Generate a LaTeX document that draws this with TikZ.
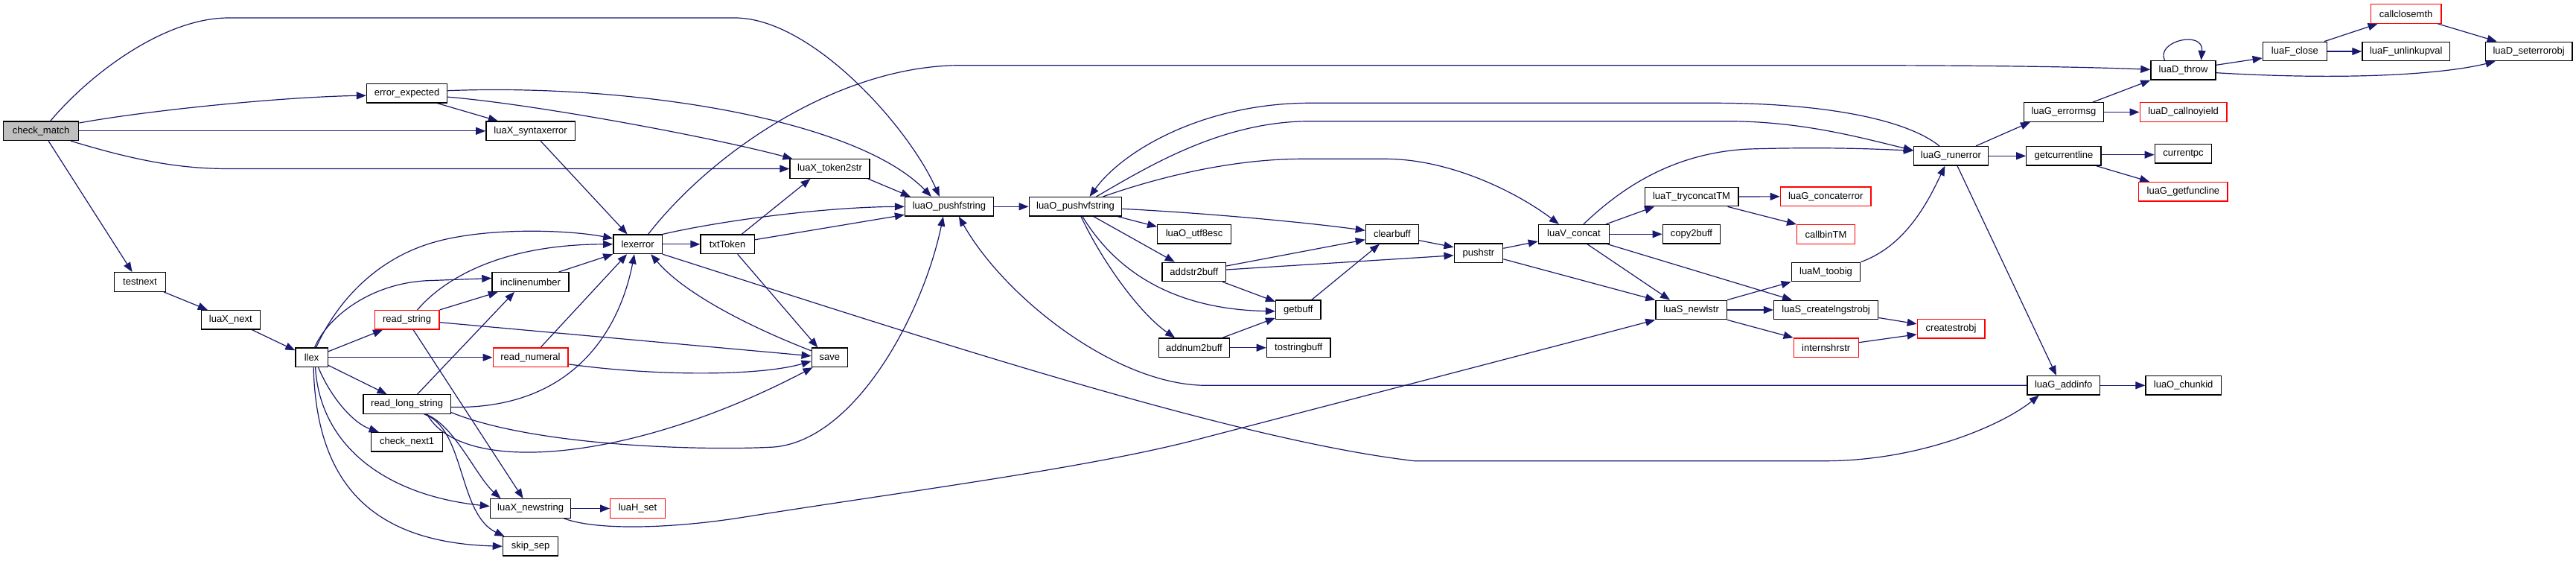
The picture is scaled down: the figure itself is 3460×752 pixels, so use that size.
\documentclass[tikz,border=0pt]{standalone}
\usepackage{fontspec}
\setmainfont{Liberation Sans}
\usetikzlibrary{arrows.meta}
\definecolor{edgec}{HTML}{191970}
\definecolor{fillg}{HTML}{BFBFBF}
\pgfdeclarelayer{bg}
\pgfsetlayers{bg,main}
\begin{document}
\begin{tikzpicture}[x=1pt,y=-1pt,
 fn/.style={draw=black, line width=1.3pt, fill=white, minimum height=25.5pt, inner sep=0pt, font=\fontsize{13}{15}\selectfont},
 fnred/.style={fn, draw=red},
 fnmain/.style={fn, fill=fillg},
 call/.style={draw=edgec, line width=1.2pt, -{Triangle[length=13pt,width=10pt]}}]
\useasboundingbox (0,0) rectangle (3460,752);
% nodes
\node[fnmain, minimum width=101.4pt] (cm) at (55.1,175.8) {check\_match};
\node[fn, minimum width=108.3pt] (ee) at (546.6,125.2) {error\_expected};
\node[fn, minimum width=119.5pt] (se) at (712.6,175.8) {luaX\_syntaxerror};
\node[fn, minimum width=107.1pt] (t2s) at (1114.5,226.5) {luaX\_token2str};
\node[fn, minimum width=69.5pt] (tn) at (188,378.5) {testnext};
\node[fn, minimum width=78.8pt] (nx) at (309.8,429.3) {luaX\_next};
\node[fn, minimum width=43.3pt] (llex) at (418.6,479.8) {llex};
\node[fnred, minimum width=86.9pt] (rs) at (546.6,429.3) {read\_string};
\node[fn, minimum width=117.2pt] (rls) at (546.6,542.5) {read\_long\_string};
\node[fn, minimum width=96.1pt] (cn1) at (546.7,593.2) {check\_next1};
\node[fn, minimum width=65.5pt] (le) at (856.6,327.8) {lexerror};
\node[fn, minimum width=72.1pt] (tt) at (977.1,327.8) {txtToken};
\node[fn, minimum width=102.9pt] (inc) at (712.4,378.5) {inclinenumber};
\node[fnred, minimum width=100.7pt] (rn) at (712.5,479.8) {read\_numeral};
\node[fn, minimum width=48.4pt] (save) at (1114.4,479.8) {save};
\node[fn, minimum width=108.4pt] (ns) at (712.6,682.5) {luaX\_newstring};
\node[fnred, minimum width=73.7pt] (hs) at (856.5,682.5) {luaH\_set};
\node[fn, minimum width=74.4pt] (ss) at (712.6,733.3) {skip\_sep};
\node[fn, minimum width=118.8pt] (pf) at (1274.9,277.3) {luaO\_pushfstring};
\node[fn, minimum width=124.4pt] (pv) at (1444.5,277.3) {luaO\_pushvfstring};
\node[fn, minimum width=98.8pt] (u8) at (1604.1,314.3) {luaO\_utf8esc};
\node[fn, minimum width=85.5pt] (as) at (1603.8,365) {addstr2buff};
\node[fn, minimum width=60.5pt] (gb) at (1743.8,415.8) {getbuff};
\node[fn, minimum width=94.7pt] (an) at (1604,466.7) {addnum2buff};
\node[fn, minimum width=85.7pt] (tsb) at (1744.2,466.7) {tostringbuff};
\node[fn, minimum width=71.1pt] (cb) at (1869.9,314.3) {clearbuff};
\node[fn, minimum width=65.5pt] (ps) at (1985.9,339.8) {pushstr};
\node[fn, minimum width=95.1pt] (vc) at (2113.9,314.3) {luaV\_concat};
\node[fn, minimum width=125.7pt] (tc) at (2272,264) {luaT\_tryconcatTM};
\node[fn, minimum width=77.6pt] (c2b) at (2272,314.3) {copy2buff};
\node[fn, minimum width=95.5pt] (nl) at (2271.6,416) {luaS\_newlstr};
\node[fnred, minimum width=121.7pt] (gce) at (2452.2,263.8) {luaG\_concaterror};
\node[fnred, minimum width=77.7pt] (cbt) at (2452.5,314.5) {callbinTM};
\node[fn, minimum width=92.5pt] (mtb) at (2452.5,365) {luaM\_toobig};
\node[fn, minimum width=140.2pt] (cls) at (2452.6,416) {luaS\_createlngstrobj};
\node[fnred, minimum width=90.6pt] (cso) at (2620.6,441.3) {createstrobj};
\node[fnred, minimum width=86.9pt] (ish) at (2452.7,466.7) {internshrstr};
\node[fn, minimum width=99.9pt] (gre) at (2620.4,209.3) {luaG\_runerror};
\node[fn, minimum width=107pt] (gem) at (2771.9,150.5) {luaG\_errormsg};
\node[fn, minimum width=100.2pt] (gcl) at (2771.9,209.3) {getcurrentline};
\node[fn, minimum width=87.1pt] (dth) at (2932.5,94.3) {luaD\_throw};
\node[fnred, minimum width=116.9pt] (dcn) at (2932.6,150.5) {luaD\_callnoyield};
\node[fn, minimum width=76.5pt] (cpc) at (2932.5,206.2) {currentpc};
\node[fnred, minimum width=119.4pt] (gfl) at (2932.4,257.2) {luaG\_getfuncline};
\node[fn, minimum width=97.7pt] (gai) at (2771.7,517.3) {luaG\_addinfo};
\node[fn, minimum width=101.2pt] (cid) at (2932.6,517.3) {luaO\_chunkid};
\node[fnred, minimum width=94.6pt] (ccm) at (3231.6,18.5) {callclosemth};
\node[fn, minimum width=86.1pt] (fcl) at (3082.3,69) {luaF\_close};
\node[fn, minimum width=117.8pt] (fuv) at (3231.8,69) {luaF\_unlinkupval};
\node[fn, minimum width=116.8pt] (dse) at (3396.6,69) {luaD\_seterrorobj};
% edges
\begin{pgfonlayer}{bg}
% check_match
\draw[call] ([xshift=12.6pt]cm.north) .. controls (120,100) and (220,24) .. (307,24) -- (987,24) .. controls (1090,24) and (1220,170) .. ([xshift=-13pt]pf.north);
\draw[call] ([yshift=10.8pt]cm.east) .. controls (200,148) and (380,130) .. ([yshift=-3pt]ee.west);
\draw[call] (cm.east) -- (se.west);
\draw[call] ([xshift=40pt]cm.south) .. controls (180,215) and (240,226.5) .. (307,226.5) -- (t2s.west);
\draw[call] ([xshift=10pt]cm.south) -- ([xshift=-10.4pt]tn.north);
% error_expected
\draw[call] ([xshift=40.8pt]ee.south) -- ([xshift=-43.8pt]se.north);
\draw[call] ([yshift=-5pt]ee.east) .. controls (720,140) and (960,185) .. ([xshift=-50pt]t2s.north);
\draw[call] ([yshift=3.5pt]ee.east) .. controls (850,112) and (1150,160) .. ([xshift=-24pt]pf.north);
% syntaxerror, token2str
\draw[call] ([xshift=13.5pt]se.south) -- ([xshift=-14pt]le.north);
\draw[call] ([xshift=-3pt]t2s.south east) -- ([xshift=-52pt]pf.north);
% testnext, next
\draw[call] ([xshift=32pt]tn.south) -- ([xshift=-31pt]nx.north);
\draw[call] ([xshift=28.7pt]nx.south) -- ([yshift=9.5pt]llex.west);
% llex
\draw[call] ([xshift=6pt]llex.north) .. controls (450,410) and (500,350) .. (580,326) .. controls (650,305) and (760,308) .. ([yshift=7.8pt]le.west);
\draw[call] ([xshift=4pt]llex.north) .. controls (440,425) and (500,378) .. (580,376.5) -- ([yshift=5pt]inc.west);
\draw[call] ([yshift=8pt]llex.east) -- ([xshift=-32.5pt]rs.south);
\draw[call] (llex.east) -- (rn.west);
\draw[call] ([yshift=-10.5pt]llex.east) -- ([xshift=-27pt]rls.north);
\draw[call] ([xshift=9pt]llex.south) .. controls (445,535) and (475,568) .. ([xshift=-38pt]cn1.north);
\draw[call] ([xshift=5pt]llex.south) .. controls (430,600) and (520,665) .. ([yshift=3pt]ns.west);
\draw[call] ([xshift=2.5pt]llex.south) .. controls (425,650) and (500,728) .. (ss.west);
% read_string
\draw[call] ([xshift=14pt]rs.north) .. controls (600,370) and (680,328) .. (le.west);
\draw[call] (rs.north east) -- ([xshift=-43.6pt]inc.south);
\draw[call] ([yshift=-3.4pt]rs.east) -- ([yshift=2pt]save.west);
\draw[call] ([xshift=8.5pt]rs.south) -- ([xshift=-10pt]ns.north);
% read_long_string
\draw[call] ([yshift=-4pt]rls.east) .. controls (780,550) and (835,430) .. ([xshift=-4.6pt]le.south);
\draw[call] ([xshift=14pt]rls.north) -- ([xshift=-21.4pt]inc.south);
\draw[call] ([xshift=25pt]rls.south) .. controls (610,570) and (640,640) .. ([xshift=-40pt]ns.north);
\draw[call] ([xshift=23pt]rls.south) .. controls (625,575) and (615,690) .. ([xshift=-35pt]ss.north);
\draw[call] ([xshift=27pt]rls.south) .. controls (620,640) and (850,620) .. ([xshift=2pt]save.south west);
\draw[call] ([yshift=-11pt]rls.east) .. controls (720,600) and (950,605) .. (1040,600) .. controls (1150,590) and (1240,420) .. ([xshift=-8pt]pf.south);
% read_numeral, inclinenumber
\draw[call] ([xshift=13.5pt]rn.north) -- ([xshift=-14.5pt]le.south);
\draw[call] ([yshift=-9pt]rn.east) .. controls (880,505) and (1020,505) .. ([yshift=-5pt]save.west);
\draw[call] ([xshift=38pt]inc.north) -- (le.south west);
% lexerror
\draw[call] (le.east) -- (tt.west);
\draw[call] (le.north east) .. controls (960,298) and (1100,278) .. (pf.west);
\draw[call] ([xshift=14pt]le.north) .. controls (960,200) and (1130,88) .. (1290,87.7) -- (2500,87.7) .. controls (2700,88) and (2800,90) .. ([yshift=1pt]dth.west);
\draw[call] (le.south east) .. controls (1200,440) and (1650,590) .. (1900,618.7) -- (2450,618.7) .. controls (2580,618.7) and (2690,570) .. ([xshift=-33pt]gai.south);
% txtToken
\draw[call] ([xshift=19pt]tt.north) -- ([xshift=-26pt]t2s.south);
\draw[call] ([yshift=6pt]tt.east) -- ([yshift=-11pt]pf.west);
\draw[call] ([xshift=13.6pt]tt.south) -- ([xshift=-16pt]save.north);
% save
\draw[call] ([yshift=9pt]save.west) .. controls (1010,440) and (920,395) .. ([xshift=17.6pt]le.south);
% luaX_newstring
\draw[call] (ns.east) -- (hs.west);
\draw[call] ([xshift=45pt]ns.south) .. controls (800,712) and (900,710) .. (1000,694) .. controls (1200,662) and (1450,630) .. (1600,592) .. controls (1800,540) and (2050,475) .. (nl.south west);
% pushfstring / pushvfstring
\draw[call] (pf.east) -- (pv.west);
\draw[call] ([xshift=-6pt]pv.south east) -- ([yshift=10pt]u8.west);
\draw[call] ([xshift=24.5pt]pv.south) -- ([xshift=-26pt]as.north);
\draw[call] ([xshift=9.5pt]pv.south) .. controls (1490,350) and (1560,415) .. ([yshift=-2pt]gb.west);
\draw[call] ([xshift=7.5pt]pv.south) .. controls (1480,350) and (1530,420) .. ([xshift=-26pt]an.north);
\draw[call] ([yshift=-3pt]pv.east) .. controls (1620,286) and (1750,298) .. ([yshift=5pt]cb.west);
\draw[call] ([xshift=37pt]pv.north) .. controls (1550,240) and (1650,213.3) .. (1750,213.3) -- (1860,213.3) .. controls (1950,213.3) and (2040,260) .. ([xshift=-20pt]vc.north);
\draw[call] ([xshift=28pt]pv.north) .. controls (1540,225) and (1640,162.7) .. (1760,162.7) -- (2320,162.7) .. controls (2420,162.7) and (2500,185) .. ([yshift=7.5pt]gre.west);
% buffers
\draw[call] ([yshift=8pt]as.east) -- ([yshift=-7.4pt]cb.west);
\draw[call] ([yshift=3pt]as.east) -- ([yshift=-3pt]ps.west);
\draw[call] ([xshift=-5pt]as.south east) -- ([yshift=11pt]gb.west);
\draw[call] ([xshift=-10pt]an.north east) -- ([yshift=-11pt]gb.west);
\draw[call] (an.east) -- (tsb.west);
\draw[call] ([xshift=18pt]gb.north) -- ([xshift=-17pt]cb.south);
\draw[call] ([yshift=-8.4pt]cb.east) -- ([yshift=8pt]ps.west);
\draw[call] ([yshift=6.5pt]ps.east) -- ([yshift=-9.7pt]vc.west);
\draw[call] ([yshift=-8pt]ps.east) -- (nl.north west);
% luaV_concat
\draw[call] ([xshift=13pt]vc.north) .. controls (2170,260) and (2240,205) .. (2350,200) .. controls (2450,197) and (2520,200) .. ([yshift=7pt]gre.west);
\draw[call] ([xshift=-5pt]vc.north east) -- ([xshift=-50pt]tc.south);
\draw[call] (vc.east) -- (c2b.west);
\draw[call] ([xshift=18pt]vc.south) -- ([xshift=-28.6pt]nl.north);
\draw[call] ([xshift=-3pt]vc.south east) -- ([xshift=-45.6pt]cls.north);
% luaS_newlstr
\draw[call] (nl.north east) -- (mtb.south west);
\draw[call] (nl.east) -- (cls.west);
\draw[call] (nl.south east) -- (ish.north west);
\draw[call] ([yshift=-10.5pt]cls.east) -- ([yshift=6.5pt]cso.west);
\draw[call] ([yshift=7pt]ish.east) -- ([yshift=-7.5pt]cso.west);
% tryconcatTM
\draw[call] (tc.east) -- (gce.west);
\draw[call] ([xshift=-15pt]tc.south east) -- (cbt.north west);
\draw[call] (mtb.north east) .. controls (2560,330) and (2590,270) .. ([xshift=-8pt]gre.south);
% luaG_runerror
\draw[call] ([xshift=-15.5pt]gre.north) .. controls (2560,160) and (2450,138.3) .. (2300,138.3) -- (1760,138.3) .. controls (1620,138.3) and (1510,200) .. ([xshift=19pt]pv.north);
\draw[call] ([xshift=33.6pt]gre.north) -- ([xshift=-45pt]gem.south);
\draw[call] (gre.east) -- (gcl.west);
\draw[call] ([xshift=8.6pt]gre.south) -- ([xshift=-9.7pt]gai.north);
\draw[call] ([xshift=39pt]gem.north) -- (dth.south west);
\draw[call] (gem.east) -- (dcn.west);
\draw[call] ([yshift=1.6pt]gcl.east) -- ([yshift=-1.5pt]cpc.west);
\draw[call] ([xshift=-7pt]gcl.south east) -- ([xshift=15pt]gfl.north west);
% addinfo
\draw[call] (gai.east) -- (cid.west);
\draw[call] (gai.west) -- (1620,517.3) .. controls (1500,517.3) and (1350,400) .. ([xshift=13pt]pf.south);
% luaD_throw
\draw[call] ([xshift=-25pt]dth.north) .. controls (2895,55) and (2960,40) .. ([xshift=24pt]dth.north);
\draw[call] ([yshift=7pt]dth.east) -- ([yshift=-9pt]fcl.west);
\draw[call] ([yshift=-3.4pt]dth.east) .. controls (3150,108) and (3280,100) .. ([xshift=-45pt]dse.south);
\draw[call] ([xshift=-4pt]fcl.north east) -- ([xshift=-38pt]ccm.south);
\draw[call] (fcl.east) -- (fuv.west);
\draw[call] ([xshift=42.7pt]ccm.south) -- ([xshift=-43pt]dse.north);
\end{pgfonlayer}
\end{tikzpicture}
\end{document}
